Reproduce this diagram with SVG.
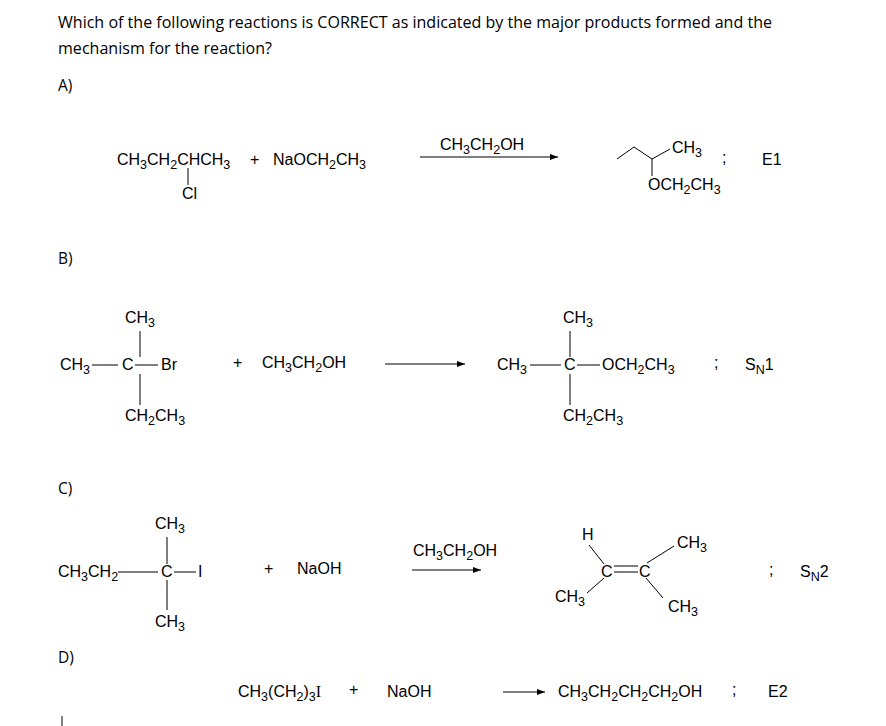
<svg xmlns="http://www.w3.org/2000/svg" width="886" height="726" viewBox="0 0 886 726">
<defs>
<style>
text{font-family:"Liberation Sans",Arial,sans-serif;font-size:16px;fill:#000}
tspan.s{font-size:12.5px}
.q{font-family:"Open Sans","Noto Sans",sans-serif;font-size:15.5px}
line,polyline{stroke:#000;stroke-width:1;fill:none}
</style>
<marker id="ah" markerWidth="8" markerHeight="6" refX="8" refY="3" orient="auto" markerUnits="userSpaceOnUse"><path d="M0,0L8,3L0,6z" fill="#000"/></marker>
</defs>
<rect width="886" height="726" fill="#fff"/>
<text class="q" x="58" y="28" textLength="714" lengthAdjust="spacingAndGlyphs">Which of the following reactions is CORRECT as indicated by the major products formed and the</text>
<text class="q" x="58" y="54" textLength="214" lengthAdjust="spacingAndGlyphs">mechanism for the reaction?</text>
<text class="q" x="58" y="91">A)</text>
<text class="q" x="58" y="264">B)</text>
<text class="q" x="58" y="494">C)</text>
<text class="q" x="58" y="663">D)</text>
<line x1="62" y1="716" x2="62" y2="726"/>
<g id="A">
<text x="117" y="165">CH<tspan class="s" dy="4">3</tspan><tspan dy="-4">CH</tspan><tspan class="s" dy="4">2</tspan><tspan dy="-4">CHCH</tspan><tspan class="s" dy="4">3</tspan></text>
<line x1="188" y1="168" x2="188" y2="185"/>
<text x="182" y="199">Cl</text>
<text x="250" y="165">+</text>
<text x="273" y="165">NaOCH<tspan class="s" dy="4">2</tspan><tspan dy="-4">CH</tspan><tspan class="s" dy="4">3</tspan></text>
<text x="440" y="150">CH<tspan class="s" dy="4">3</tspan><tspan dy="-4">CH</tspan><tspan class="s" dy="4">2</tspan><tspan dy="-4">OH</tspan></text>
<line x1="420" y1="157" x2="558" y2="157" marker-end="url(#ah)"/>
<polyline points="617,159 634,147 652,159 670,149"/>
<line x1="652" y1="159" x2="652" y2="176"/>
<text x="672" y="153">CH<tspan class="s" dy="4">3</tspan></text>
<text x="648" y="190">OCH<tspan class="s" dy="4">2</tspan><tspan dy="-4">CH</tspan><tspan class="s" dy="4">3</tspan></text>
<text x="722" y="163">;</text>
<text x="762" y="165">E1</text>
</g>
<g id="B">
<text x="125" y="323">CH<tspan class="s" dy="4">3</tspan></text>
<line x1="140" y1="331" x2="140" y2="357"/>
<line x1="140" y1="374" x2="140" y2="405"/>
<text x="60" y="370">CH<tspan class="s" dy="4">3</tspan></text>
<line x1="92" y1="365" x2="118" y2="365"/>
<text x="122" y="370">C</text>
<line x1="135" y1="365" x2="158" y2="365"/>
<text x="161" y="370">Br</text>
<text x="125" y="421">CH<tspan class="s" dy="4">2</tspan><tspan dy="-4">CH</tspan><tspan class="s" dy="4">3</tspan></text>
<text x="233" y="368">+</text>
<text x="262" y="368">CH<tspan class="s" dy="4">3</tspan><tspan dy="-4">CH</tspan><tspan class="s" dy="4">2</tspan><tspan dy="-4">OH</tspan></text>
<line x1="385" y1="364" x2="465" y2="364" marker-end="url(#ah)"/>
<text x="563" y="323">CH<tspan class="s" dy="4">3</tspan></text>
<line x1="570" y1="331" x2="570" y2="357"/>
<line x1="570" y1="374" x2="570" y2="405"/>
<text x="497" y="370">CH<tspan class="s" dy="4">3</tspan></text>
<line x1="530" y1="365" x2="561" y2="365"/>
<text x="564" y="370">C</text>
<line x1="577" y1="365" x2="600" y2="365"/>
<text x="602" y="370">OCH<tspan class="s" dy="4">2</tspan><tspan dy="-4">CH</tspan><tspan class="s" dy="4">3</tspan></text>
<text x="563" y="421">CH<tspan class="s" dy="4">2</tspan><tspan dy="-4">CH</tspan><tspan class="s" dy="4">3</tspan></text>
<text x="714" y="368">;</text>
<text x="745" y="370">S<tspan class="s" dy="4">N</tspan><tspan dy="-4">1</tspan></text>
</g>
<g id="C">
<text x="155" y="529">CH<tspan class="s" dy="4">3</tspan></text>
<line x1="167" y1="537" x2="167" y2="564"/>
<line x1="167" y1="580" x2="167" y2="610"/>
<text x="58" y="577">CH<tspan class="s" dy="4">3</tspan><tspan dy="-4">CH</tspan><tspan class="s" dy="4">2</tspan></text>
<line x1="118" y1="572" x2="158" y2="572"/>
<text x="161" y="577">C</text>
<line x1="174" y1="572" x2="196" y2="572"/>
<text x="198" y="577" font-family="Liberation Serif,serif">I</text>
<text x="155" y="627">CH<tspan class="s" dy="4">3</tspan></text>
<text x="264" y="574">+</text>
<text x="297" y="574">NaOH</text>
<text x="413" y="556">CH<tspan class="s" dy="4">3</tspan><tspan dy="-4">CH</tspan><tspan class="s" dy="4">2</tspan><tspan dy="-4">OH</tspan></text>
<line x1="412" y1="570" x2="481" y2="570" marker-end="url(#ah)"/>
<text x="582" y="540" font-size="14">H</text>
<line x1="589" y1="545" x2="604" y2="564"/>
<text x="601" y="577">C</text>
<line x1="614" y1="566" x2="638" y2="566"/>
<line x1="614" y1="572" x2="638" y2="572"/>
<text x="639" y="577">C</text>
<line x1="647" y1="563" x2="674" y2="546"/>
<text x="677" y="548">CH<tspan class="s" dy="4">3</tspan></text>
<line x1="604" y1="578" x2="587" y2="593"/>
<text x="555" y="602">CH<tspan class="s" dy="4">3</tspan></text>
<line x1="646" y1="578" x2="663" y2="598"/>
<text x="668" y="612">CH<tspan class="s" dy="4">3</tspan></text>
<text x="769" y="575">;</text>
<text x="800" y="577">S<tspan class="s" dy="4">N</tspan><tspan dy="-4">2</tspan></text>
</g>
<g id="D">
<text x="238" y="697">CH<tspan class="s" dy="4">3</tspan><tspan dy="-4">(CH</tspan><tspan class="s" dy="4">2</tspan><tspan dy="-4">)</tspan><tspan class="s" dy="4">3</tspan><tspan dy="-4" font-family="Liberation Serif,serif">I</tspan></text>
<text x="349" y="695">+</text>
<text x="387" y="697">NaOH</text>
<line x1="503" y1="692" x2="545" y2="692" marker-end="url(#ah)"/>
<text x="558" y="697">CH<tspan class="s" dy="4">3</tspan><tspan dy="-4">CH</tspan><tspan class="s" dy="4">2</tspan><tspan dy="-4">CH</tspan><tspan class="s" dy="4">2</tspan><tspan dy="-4">CH</tspan><tspan class="s" dy="4">2</tspan><tspan dy="-4">OH</tspan></text>
<text x="732" y="695">;</text>
<text x="768" y="697">E2</text>
</g>
</svg>
